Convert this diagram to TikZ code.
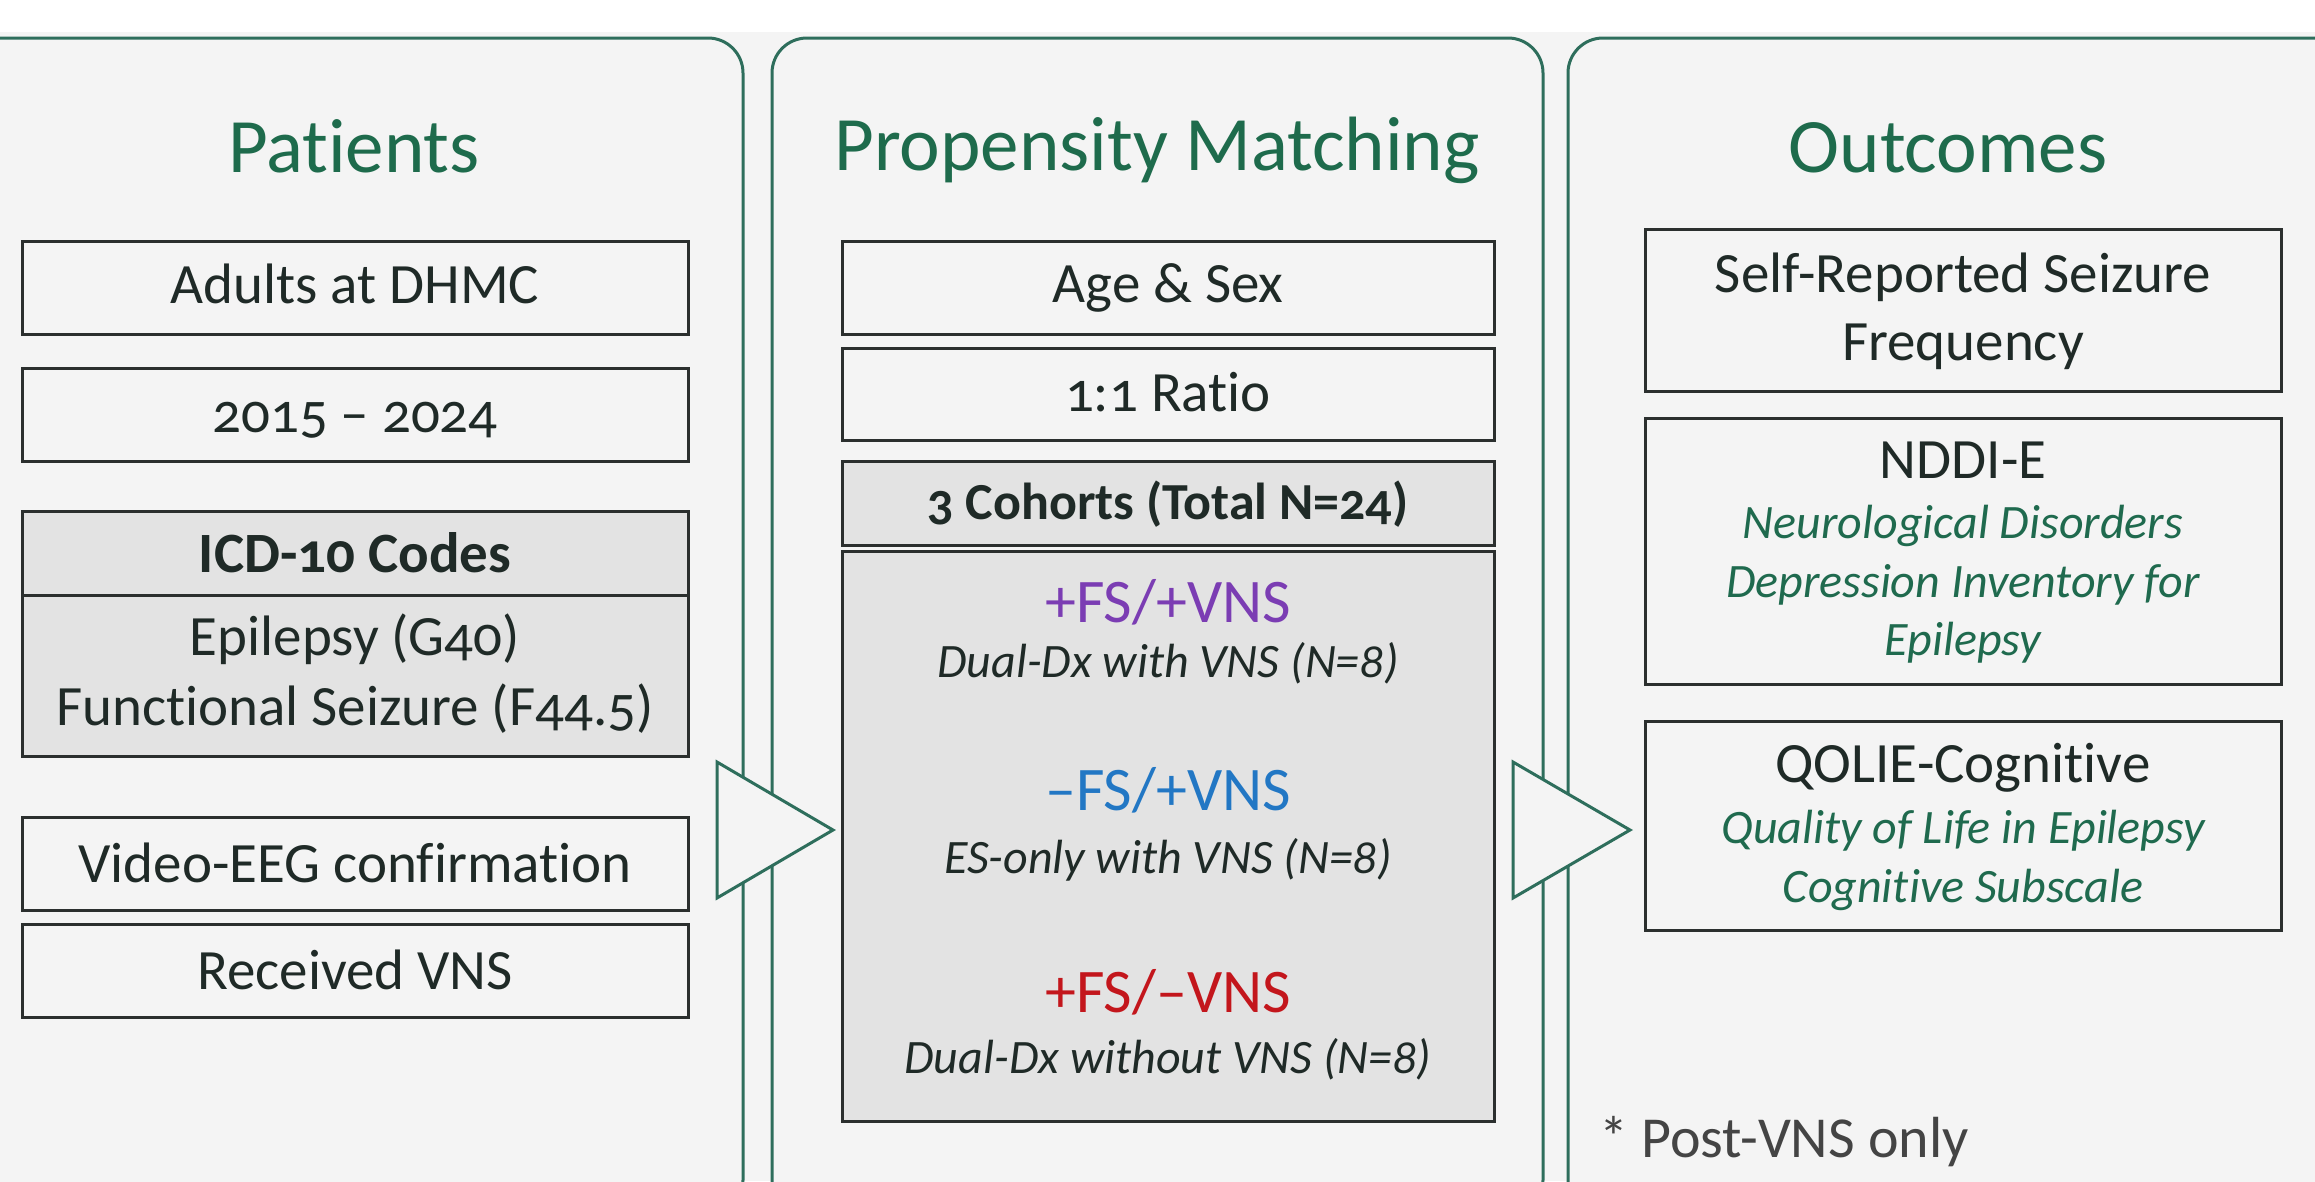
\documentclass[tikz,border=0pt]{standalone}
\usepackage{fontspec}
\setmainfont{Carlito}[Numbers=OldStyle,Ligatures=NoCommon]
\newcommand\nolig{\kern0pt{}}
\definecolor{bg}{HTML}{F4F4F4}
\definecolor{gfill}{HTML}{E3E3E3}
\definecolor{pgreen}{HTML}{2E6E5C}
\definecolor{hgreen}{HTML}{1E6B4C}
\definecolor{igreen}{HTML}{1F6A4E}
\definecolor{boxline}{HTML}{2B2F2E}
\definecolor{ink}{HTML}{1F2A27}
\definecolor{cpurple}{HTML}{7B3DB3}
\definecolor{cblue}{HTML}{2277C4}
\definecolor{cred}{HTML}{C3161C}
\definecolor{note}{HTML}{444444}
\begin{document}
\begin{tikzpicture}[x=1pt,y=-1pt,
  panel/.style={draw=pgreen, line width=3pt, fill=bg, rounded corners=35pt},
  box/.style={draw=boxline, line width=3pt, fill=bg, inner sep=0pt},
  gbox/.style={box, fill=gfill},
  txt/.style={anchor=base, inner sep=0pt, text=ink, font=\fontsize{57}{68}\selectfont},
  btxt/.style={txt, font=\fontsize{57}{68}\selectfont\bfseries},
  head/.style={anchor=base, inner sep=0pt, text=hgreen, font=\fontsize{77}{92}\selectfont},
  itx/.style={anchor=base, inner sep=0pt, text=ink, font=\fontsize{48}{58}\selectfont\itshape},
  gitx/.style={itx, text=igreen},
  cohort/.style={anchor=base, inner sep=0pt, font=\fontsize{62}{74}\selectfont},
  chev/.style={draw=pgreen, line width=3pt, fill=bg, line join=miter}
]
\useasboundingbox (0,0) rectangle (2315,1181);
\fill[white] (0,0) rectangle (2315,1181);
\fill[bg] (0,32) rectangle (2315,1181);

% panels
\draw[panel] (-40,38) rectangle (743,1215);
\draw[panel] (772,38) rectangle (1543,1215);
\draw[panel] (1568,38) rectangle (2360,1215);

% headers
\node[head] (hpat) at (354,172) {Patients};
\node[head] (hprop) at (1157,170) {Propensity Matching};
\node[head] (hout) at (1948,172) {Outcomes};

% left column
\node[box, minimum width=666pt, minimum height=93pt] (adults) at (355,287.5) {};
\node[txt] (tadults) at (355,303) {Adults at DHMC};
\node[box, minimum width=666pt, minimum height=93pt] (years) at (355,414.5) {};
\node[txt] (tyears) at (355,432) {2015 – 2024};
\node[gbox, minimum width=666pt, minimum height=84pt] (icdh) at (355,553) {};
\node[btxt] (ticdh) at (355,572) {ICD-10 Codes};
\node[gbox, minimum width=666pt, minimum height=161pt] (icdb) at (355,675.5) {};
\node[txt] (ticd1) at (355,655) {Epilepsy (G40)};
\node[txt] (ticd2) at (355,725) {Funct\nolig ional Seizure (F44.5)};
\node[box, minimum width=666pt, minimum height=93pt] (veeg) at (355,863.5) {};
\node[txt] (tveeg) at (355,882) {Video-EEG confirmation};
\node[box, minimum width=666pt, minimum height=93pt] (rvns) at (355,970.5) {};
\node[txt] (trvns) at (355,989) {Received VNS};

% middle column
\node[box, minimum width=652pt, minimum height=93pt] (agesex) at (1168,287.5) {};
\node[txt] (tagesex) at (1168,302) {Age \& Sex};
\node[box, minimum width=652pt, minimum height=92pt] (ratio) at (1168,394) {};
\node[txt] (tratio) at (1168,411) {1:1 Ratio};
\node[gbox, minimum width=652pt, minimum height=84pt] (coh) at (1168,503) {};
\node[btxt, font=\fontsize{52}{62}\selectfont\bfseries] (tcoh) at (1168,519) {3 Cohorts (Total N=24)};
\node[gbox, minimum width=652pt, minimum height=570pt] (cohbox) at (1168,836) {};
\node[cohort, text=cpurple] (c1) at (1168,622) {+FS/+VNS};
\node[itx] (c1d) at (1168,677) {Dual-Dx with VNS (N=8)};
\node[cohort, text=cblue] (c2) at (1168,810) {–FS/+VNS};
\node[itx] (c2d) at (1168,873) {ES-only with VNS (N=8)};
\node[cohort, text=cred] (c3) at (1168,1012) {+FS/–VNS};
\node[itx] (c3d) at (1168,1073) {Dual-Dx without VNS (N=8)};

% right column
\node[box, minimum width=636pt, minimum height=162pt] (selfrep) at (1963,310) {};
\node[txt] (tsr1) at (1963,292) {Self-Reported Seizure};
\node[txt] (tsr2) at (1963,360) {Frequency};
\node[box, minimum width=636pt, minimum height=266pt] (nddi) at (1963,551) {};
\node[txt] (tnddi) at (1963,478) {NDDI-E};
\node[gitx] (tnd1) at (1963,538) {Neurological Disorders};
\node[gitx] (tnd2) at (1963,597) {Depression Inventory for};
\node[gitx] (tnd3) at (1963,655) {Epilepsy};
\node[box, minimum width=636pt, minimum height=209pt] (qolie) at (1963,825.5) {};
\node[txt] (tqol) at (1963,782) {QOLIE-Cognit\nolig ive};
\node[gitx] (tq1) at (1963,843) {Quality of Life in Epilepsy};
\node[gitx] (tq2) at (1963,902) {Cognit\nolig ive Subscale};

\node[anchor=base west, inner sep=0pt, text=note, font=\fontsize{58}{68}\selectfont] (post) at (1599,1157) {* Post-VNS only};

% chevron connectors
\coordinate (a1) at (717,762);
\coordinate (a1b) at (717,898);
\coordinate (a1t) at (833,830);
\coordinate (a2) at (1513,762);
\coordinate (a2b) at (1513,898);
\coordinate (a2t) at (1630,830);
\draw[chev] (a1) -- (a1t) -- (a1b) -- cycle;
\draw[chev] (a2) -- (a2t) -- (a2b) -- cycle;
\end{tikzpicture}
\end{document}
